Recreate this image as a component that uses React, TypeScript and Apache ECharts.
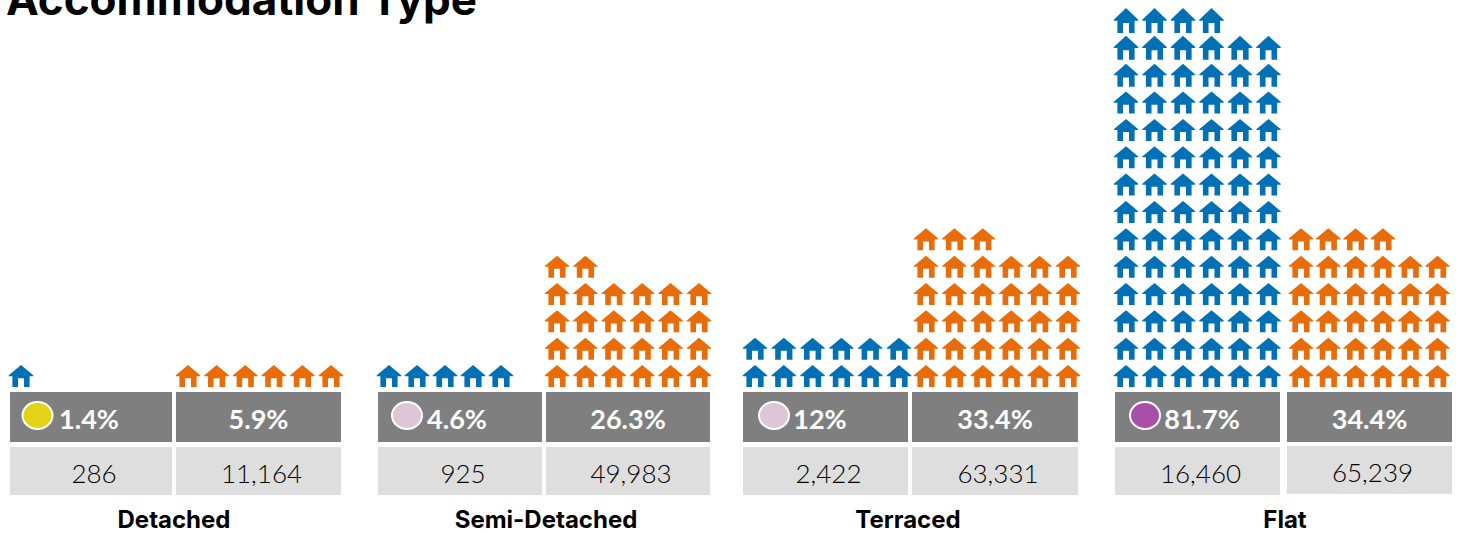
import React, { useEffect, useRef } from "react";
import * as echarts from "echarts";

const title = "Accommodation Type";
const categories = ["Detached", "Semi-Detached", "Terraced", "Flat"];
const leftPercent = ["1.4%", "4.6%", "12%", "81.7%"];
const rightPercent = ["5.9%", "26.3%", "33.4%", "34.4%"];
const leftCount = ["286", "925", "2,422", "16,460"];
const rightCount = ["11,164", "49,983", "63,331", "65,239"];
const leftHouses = [1, 5, 12, 82];
const rightHouses = [6, 26, 33, 34];
const dotColours = ["#E2D317", "#DCC6D8", "#DCC6D8", "#A94FA9"];

const BLUE = "#0170B4";
const ORANGE = "#E86D0A";
const FONT = "Lato";
const BOLD_FONT = "Inter";
const HOUSE =
  "path://M37,0 L74,35 L74,38 L63,38 L63,75 L46,75 L46,45 L28,45 L28,75 L11,75 L11,38 L0,38 L0,35 Z";

const ROWS = 14;
const COLS = 6;
const ROW_PITCH = 27.35;
const GRID_BOTTOM_Y = 389.7;

// Layout of each table: left cell, right cell, and the first house's centre and pitch.
const panels = [
  { l: [10, 172], r: [176, 341], lc: 21, lp: 28.5, rc: 188, rp: 28.6, dot: 37.5, text: 89 },
  { l: [378, 542], r: [546, 710], lc: 389, lp: 28, rc: 557, rp: 28.4, dot: 407, text: 457 },
  { l: [743, 908], r: [912, 1078], lc: 755, lp: 28.8, rc: 926, rp: 28.4, dot: 774, text: 820 },
  { l: [1115, 1280], r: [1287, 1452], lc: 1126, lp: 28.5, rc: 1301, rp: 27.3, dot: 1145, text: 1202 },
];
const labelCentres = [174, 546, 908, 1285];

function cells(count: number) {
  const out: [number, number][] = [];
  for (let i = 0; i < count; i++) {
    out.push([i % COLS, Math.floor(i / COLS)]);
  }
  return out;
}

export default function App() {
  const ref = useRef<HTMLDivElement>(null);
  useEffect(() => {
    if (!ref.current) return;
    const chart = echarts.init(ref.current, undefined, { renderer: "svg" });
    const grids: any[] = [];
    const xAxes: any[] = [];
    const yAxes: any[] = [];
    const series: any[] = [];
    const colNames = Array.from({ length: COLS }, (_, i) => String(i));
    const rowNames = Array.from({ length: ROWS }, (_, i) => String(i));
    const add = (centre: number, pitch: number, count: number, colour: string, name: string) => {
      const idx = grids.length;
      grids.push({
        left: centre - pitch / 2,
        width: pitch * COLS,
        top: GRID_BOTTOM_Y - ROW_PITCH * ROWS,
        height: ROW_PITCH * ROWS,
      });
      xAxes.push({ type: "category", gridIndex: idx, data: colNames, show: false });
      yAxes.push({ type: "category", gridIndex: idx, data: rowNames, show: false });
      series.push({
        type: "scatter",
        name,
        xAxisIndex: idx,
        yAxisIndex: idx,
        symbol: HOUSE,
        symbolSize: (v: number[]) => [24.5, 22 + Math.max(0, v[1] - 10)],
        silent: true,
        itemStyle: { color: colour, opacity: 1 },
        data: cells(count),
      });
    };
    panels.forEach((p, i) => {
      add(p.lc, p.lp, leftHouses[i], BLUE, categories[i] + " left");
      add(p.rc, p.rp, rightHouses[i], ORANGE, categories[i] + " right");
    });

    const graphic: any[] = [
      {
        type: "text",
        x: 6,
        y: -23,
        style: { text: title, fontFamily: BOLD_FONT, fontWeight: "bold", fontSize: 44, fill: "#000" },
      },
    ];
    const rect = (a: number[], y0: number, y1: number, fill: string) => ({
      type: "rect",
      shape: { x: a[0], y: y0, width: a[1] - a[0], height: y1 - y0 },
      style: { fill },
    });
    const txt = (s: string, x: number, y: number, fill: string, weight: any, size: number, family = FONT) => ({
      type: "text",
      x,
      y,
      z: 5,
      style: { text: s, fill, fontFamily: family, fontWeight: weight, fontSize: size, textAlign: "center", textVerticalAlign: "middle", verticalAlign: "middle" },
    });
    panels.forEach((p, i) => {
      const rightShift = i === 3 ? 1 : 0;
      graphic.push(rect(p.l, 392, 442, "#7F7F7F"));
      graphic.push(rect(p.r, 392, 442, "#7F7F7F"));
      graphic.push(rect(p.l, 447, 495, "#DEDEDE"));
      graphic.push(rect(p.r, 447 - rightShift, 495 - rightShift, "#DEDEDE"));
      graphic.push({
        type: "ellipse",
        z: 4,
        shape: { cx: p.dot, cy: 415.5, rx: 15, ry: 13.5 },
        style: { fill: dotColours[i], stroke: "#fff", lineWidth: 2 },
      });
      graphic.push(txt(leftPercent[i], p.text, 418, "#fff", "bold", 27));
      graphic.push(txt(rightPercent[i], (p.r[0] + p.r[1]) / 2, 418, "#fff", "bold", 27));
      graphic.push(txt(leftCount[i], (p.l[0] + p.l[1]) / 2 + 3, 472.5, "#000", 300, 26));
      graphic.push(txt(rightCount[i], (p.r[0] + p.r[1]) / 2 + 3, 472.5 - rightShift, "#000", 300, 26));
      graphic.push(txt(categories[i], labelCentres[i], 519, "#000", "bold", 24, BOLD_FONT));
    });

    chart.setOption({
      animation: false,
      backgroundColor: "#fff",
      grid: grids,
      xAxis: xAxes,
      yAxis: yAxes,
      series,
      graphic,
    });
    return () => chart.dispose();
  }, []);
  return (
    <div
      ref={ref}
      style={{ position: "fixed", left: 0, top: 0, width: 1461, height: 533 }}
    />
  );
}
